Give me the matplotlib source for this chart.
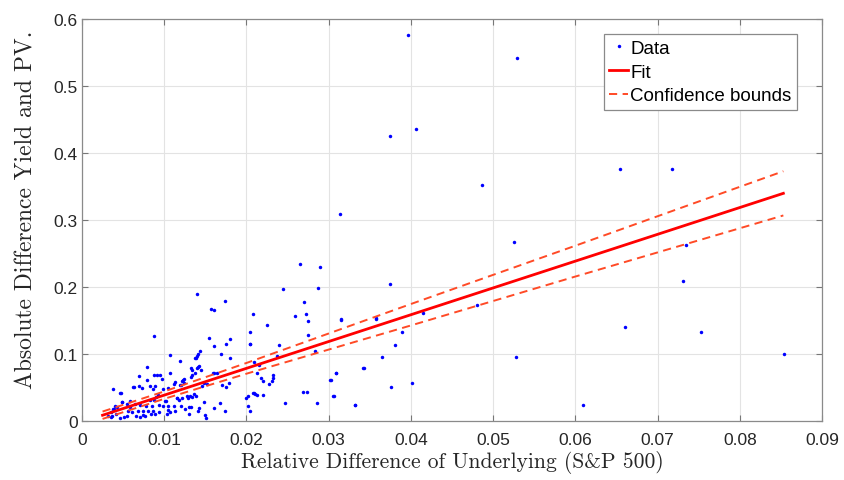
import numpy as np
import matplotlib
matplotlib.use("Agg")
import matplotlib.pyplot as plt

# scatter data (relative diff of S&P 500, absolute diff yield/PV)
data_x = [
    0.0397, 0.0529, 0.0374, 0.0406, 0.0487, 0.0654, 0.0718, 0.0314, 0.0526, 0.0734,
    0.0731, 0.0375, 0.0481, 0.0415, 0.0660, 0.0753, 0.0854, 0.0528, 0.0609, 0.0358,
    0.0315, 0.0389, 0.0381, 0.0365, 0.0343, 0.0309, 0.0303, 0.0306, 0.0332, 0.0376,
    0.0401, 0.03147, 0.03577,
    0.02648, 0.0290, 0.0245, 0.02867, 0.02704, 0.02591, 0.02725, 0.02745, 0.0225, 0.02745,
    0.02393, 0.02835, 0.02044, 0.02125, 0.02174, 0.0220, 0.02275, 0.02308, 0.02324, 0.0232,
    0.0215, 0.02089, 0.02092, 0.02125, 0.02206, 0.02368, 0.02466, 0.02692, 0.02733, 0.02863,
    0.0302, 0.03086, 0.03058, 0.0332, 0.03423,
    0.01395, 0.0174, 0.01566, 0.01606, 0.02084, 0.0088, 0.0204, 0.01545, 0.01805, 0.0175,
    0.0204, 0.0160, 0.01432, 0.01415, 0.01403, 0.01387, 0.01375, 0.0169, 0.0107, 0.01797,
    0.01326, 0.01342, 0.0119, 0.00795, 0.0107, 0.00953, 0.00908, 0.00872, 0.00973, 0.0069,
    0.00787, 0.0063, 0.00693, 0.0073, 0.00823, 0.0089, 0.0086, 0.00377, 0.00478, 0.0099,
    0.0105, 0.0112, 0.0113, 0.0119, 0.0121, 0.01245, 0.0124, 0.0123, 0.0122, 0.0134,
    0.0132, 0.0137, 0.01395, 0.0141, 0.01423, 0.01444, 0.01594, 0.0161, 0.01646, 0.0146,
    0.01488, 0.01517, 0.0170, 0.01748, 0.01785, 0.0200, 0.02015, 0.02084, 0.0211, 0.0202,
    0.02048, 0.01736, 0.0168, 0.0161, 0.0150, 0.01505, 0.0130, 0.01415, 0.01427, 0.01298,
    0.0133, 0.01293, 0.01314, 0.0134, 0.01363, 0.01387, 0.01488, 0.01123, 0.0113, 0.01152,
    0.0116, 0.0118, 0.01217, 0.01204, 0.01257, 0.01281, 0.01006, 0.01018, 0.0099, 0.01046,
    0.01046, 0.0107, 0.0103, 0.00933, 0.0089, 0.0084, 0.0086, 0.0080, 0.00738, 0.00852,
    0.00937, 0.00925, 0.0090, 0.00823, 0.00876, 0.00779, 0.00706, 0.00584, 0.00563, 0.00604,
    0.00543, 0.00515, 0.00462, 0.00414, 0.00361, 0.0032, 0.0035, 0.0038, 0.00422, 0.00483,
    0.00543, 0.00584, 0.00645, 0.00685, 0.00657, 0.00706, 0.00746, 0.00766, 0.00357, 0.0039,
    0.00617, 0.00466, 0.00487, 0.00405,
]
data_y = [
    0.576, 0.542, 0.425, 0.436, 0.352, 0.376, 0.376, 0.309, 0.267, 0.263,
    0.209, 0.204, 0.173, 0.161, 0.140, 0.133, 0.100, 0.096, 0.024, 0.154,
    0.152, 0.133, 0.113, 0.096, 0.079, 0.072, 0.061, 0.037, 0.024, 0.051,
    0.057, 0.151, 0.1527,
    0.234, 0.230, 0.1975, 0.1985, 0.1776, 0.156, 0.160, 0.150, 0.1428, 0.129,
    0.1134, 0.104, 0.1154, 0.0712, 0.0646, 0.0597, 0.0557, 0.0593, 0.0637, 0.0682,
    0.084, 0.0885, 0.0418, 0.0393, 0.0393, 0.0966, 0.0273, 0.0433, 0.0433, 0.0269,
    0.0617, 0.0712, 0.0373, 0.0239, 0.0787,
    0.189, 0.1796, 0.1676, 0.166, 0.160, 0.127, 0.133, 0.124, 0.123, 0.115,
    0.115, 0.112, 0.105, 0.100, 0.0975, 0.094, 0.0936, 0.1005, 0.098, 0.0936,
    0.0786, 0.076, 0.090, 0.080, 0.071, 0.069, 0.069, 0.069, 0.0627, 0.0676,
    0.061, 0.0507, 0.0527, 0.049, 0.0527, 0.0518, 0.0478, 0.0478, 0.0422, 0.0478,
    0.0493, 0.0552, 0.0577, 0.0533, 0.0542, 0.0563, 0.062, 0.0607, 0.0593, 0.069,
    0.066, 0.072, 0.0786, 0.080, 0.082, 0.0757, 0.072, 0.071, 0.072, 0.0527,
    0.057, 0.0548, 0.0537, 0.0512, 0.0563, 0.0348, 0.0369, 0.0422, 0.0403, 0.0228,
    0.0145, 0.0154, 0.0269, 0.0194, 0.0094, 0.0049, 0.010, 0.0145, 0.0199, 0.0213,
    0.0213, 0.0339, 0.0369, 0.0354, 0.0399, 0.0369, 0.0288, 0.0228, 0.0154, 0.0343,
    0.0343, 0.0309, 0.0343, 0.0228, 0.0179, 0.0378, 0.0303, 0.0294, 0.0228, 0.0228,
    0.0169, 0.013, 0.0104, 0.0139, 0.0104, 0.0104, 0.0154, 0.0154, 0.009, 0.0228,
    0.0239, 0.0388, 0.0354, 0.0318, 0.0318, 0.0228, 0.0239, 0.0204, 0.0154, 0.013,
    0.0079, 0.0055, 0.004, 0.0104, 0.007, 0.0079, 0.013, 0.0179, 0.0204, 0.0288,
    0.0254, 0.0303, 0.0254, 0.0154, 0.0079, 0.0055, 0.0149, 0.007, 0.0064, 0.0179,
    0.0503, 0.0413, 0.0279, 0.0228,
]

# linear fit (end points) and confidence bounds
fit_x = [0.0025, 0.0853]
fit_y = [0.0086, 0.3398]
bound_x = [0.0025, 0.01, 0.02, 0.03, 0.04, 0.05, 0.06, 0.07, 0.0853]
bound_hi = [0.0141, 0.0441, 0.0866, 0.1306, 0.1746, 0.2181, 0.2616, 0.3056, 0.3728]
bound_lo = [0.0031, 0.0331, 0.0706, 0.1066, 0.1426, 0.1791, 0.2156, 0.2516, 0.3068]

xticks = [0, 0.01, 0.02, 0.03, 0.04, 0.05, 0.06, 0.07, 0.08, 0.09]
xticklabels = ["0", "0.01", "0.02", "0.03", "0.04", "0.05", "0.06", "0.07", "0.08", "0.09"]
yticks = [0, 0.1, 0.2, 0.3, 0.4, 0.5, 0.6]
yticklabels = ["0", "0.1", "0.2", "0.3", "0.4", "0.5", "0.6"]

plt.rcParams['font.family'] = ['Liberation Sans', 'DejaVu Sans']

fig = plt.figure(figsize=(8.45, 4.81), dpi=100)
ax = fig.add_axes([82/845, 1-422/481, 740/845, 402/481])

ax.plot(data_x, data_y, linestyle='none', marker='o', markersize=2.5,
        color='#0000ff', markeredgewidth=0, label='Data')
ax.plot(fit_x, fit_y, color='#ff0000', lw=2.0, label='Fit')
ax.plot(bound_x, bound_hi, color='#ff4a26', lw=1.4, ls=(0, (4.2, 2.8)), label='Confidence bounds')
ax.plot(bound_x, bound_lo, color='#ff4a26', lw=1.4, ls=(0, (4.2, 2.8)))

ax.set_xlim(0, 0.09)
ax.set_ylim(0, 0.6)
ax.set_xticks(xticks)
ax.set_xticklabels(xticklabels)
ax.set_yticks(yticks)
ax.set_yticklabels(yticklabels)
ax.grid(True, color='#e3e3e3', lw=0.8)
ax.set_axisbelow(True)
ax.tick_params(direction='in', length=4, colors='#777777', labelcolor='#262626',
               labelsize=12.5, top=True, right=True)
ax.tick_params(axis='x', pad=8)
ax.tick_params(axis='y', pad=3)
for s in ax.spines.values():
    s.set_color('#8a8a8a')
    s.set_linewidth(0.9)

ax.set_xlabel('Relative Difference of Underlying (S&P 500)', fontfamily='cmr10',
              fontsize=15.5, color='#262626', labelpad=2)
ax.set_ylabel('Absolute Difference Yield and PV.', fontfamily='cmr10',
              fontsize=17, color='#262626')
ax.yaxis.set_label_coords(-0.06, 0.527)

leg = ax.legend(loc='upper left', bbox_to_anchor=(0.705, 0.962), fontsize=13.5,
                handlelength=1.0, handletextpad=0.12, borderpad=0.3, labelspacing=0.35,
                borderaxespad=0, fancybox=False, framealpha=1)
leg.get_frame().set_edgecolor('#8a8a8a')
leg.get_frame().set_linewidth(0.9)

fig.savefig('out.png', dpi=100)
